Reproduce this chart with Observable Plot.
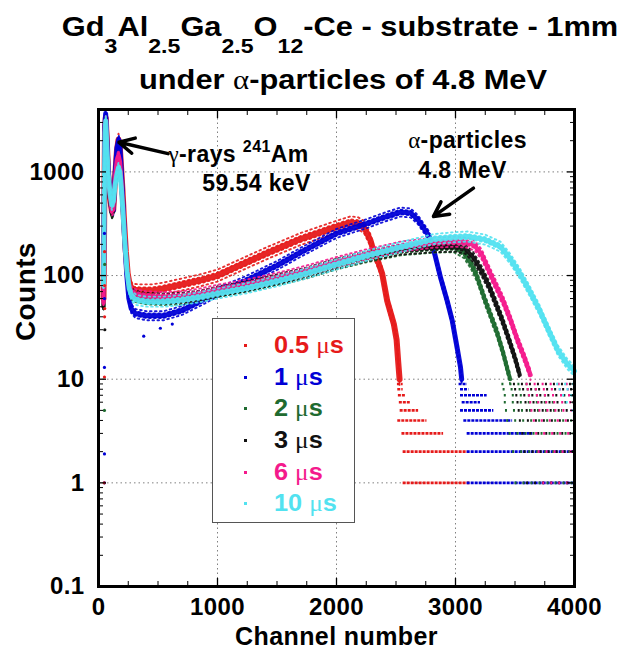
<!DOCTYPE html>
<html><head><meta charset="utf-8">
<script src="https://cdn.jsdelivr.net/npm/d3@7"></script>
<script src="https://cdn.jsdelivr.net/npm/@observablehq/plot@0.6"></script>
<style>
body{margin:0;background:#fff;}
#wrap{position:relative;width:620px;height:651px;font-family:"Liberation Sans",Arial,sans-serif;font-weight:bold;overflow:hidden;background:#fff;}
.tl{position:absolute;white-space:nowrap;font-size:28px;line-height:28px;transform:translateX(-50%) scaleX(1.1);color:#000;}
.sub{font-size:21px;position:relative;top:17px;}
.sym{font-family:"Liberation Serif",serif;font-weight:normal;}
#legend{position:absolute;left:212px;top:318px;width:141px;height:203px;border:1.5px solid #555;background:#fff;}
.lrow{position:absolute;left:274px;font-size:23px;line-height:28px;white-space:nowrap;transform:scaleX(1.1);transform-origin:left center;}
.ldot{position:absolute;left:244px;width:3px;height:3px;}
</style></head>
<body><div id="wrap"></div>
<script>
// ---------------- data ----------------
const seriesNames = ["0.5", "1", "2", "3", "6", "10"];
const seriesColors = ["#e61a1a", "#0000d6", "#1f6b30", "#111111", "#f41a8c", "#52e2f0"];

// [channel, counts] for each shaping time
const s05 = [[42,60],[48,400],[55,2600],[61,3300],[68,2200],[80,1000],[95,600],[112,420],[124,430],[140,900],[155,1600],[168,2050],[178,1800],[190,1100],[202,650],[215,330],[230,170],[245,105],[262,82],[285,73],[350,72],[450,72],[550,75],[700,82],[857,90],[1000,100],[1137,118],[1418,165],[1697,225],[1850,258],[1977,290],[2118,326],[2180,320],[2230,295],[2258,254],[2286,218],[2314,168],[2350,135],[2384,104],[2426,57],[2482,34],[2505,24],[2518,15],[2530,10]];
const s1 = [[42,80],[48,500],[54,2800],[60,3650],[67,2600],[80,1100],[95,620],[112,410],[124,420],[140,950],[155,1700],[170,2050],[180,1750],[192,1000],[205,500],[220,220],[238,100],[255,60],[275,48],[310,43],[400,41],[550,41],[700,46],[850,56],[1000,69],[1235,89],[1500,125],[1700,168],[2000,255],[2258,318],[2400,365],[2538,410],[2622,402],[2680,350],[2706,318],[2776,243],[2818,175],[2874,96],[2930,57],[2972,37],[3014,20],[3042,13],[3052,10]];
const s2 = [[42,50],[48,300],[55,2200],[61,3000],[68,1900],[80,900],[95,560],[112,390],[122,420],[140,800],[155,1100],[168,1250],[180,1100],[192,750],[205,420],[220,210],[238,110],[255,78],[275,66],[310,62],[400,59],[550,58],[700,59],[850,63],[1000,69],[1250,78],[1500,90],[1750,105],[2000,128],[2250,150],[2538,175],[2818,186],[2985,188],[3070,165],[3130,130],[3180,98],[3250,57],[3300,40],[3350,28],[3400,18],[3440,12],[3460,10]];
const s3 = [[42,50],[48,300],[55,2200],[61,2900],[68,1900],[80,900],[95,560],[112,400],[122,420],[140,780],[155,1080],[168,1200],[180,1080],[192,740],[205,420],[220,210],[238,110],[255,80],[275,68],[310,64],[400,61],[550,60],[700,61],[850,64],[1000,70],[1250,79],[1500,92],[1750,107],[2000,130],[2250,153],[2538,178],[2818,188],[3000,190],[3080,182],[3150,150],[3220,110],[3280,80],[3330,57],[3390,38],[3450,24],[3500,16],[3540,11]];
const s6 = [[42,55],[48,350],[55,2400],[61,3100],[68,2000],[80,950],[95,600],[112,420],[124,440],[140,900],[155,1300],[168,1450],[180,1250],[192,820],[205,440],[220,215],[238,112],[255,82],[275,70],[310,66],[400,63],[550,62],[700,63],[850,67],[1000,73],[1250,82],[1500,95],[1750,112],[2000,135],[2250,160],[2538,190],[2818,208],[3000,212],[3100,207],[3160,195],[3220,160],[3300,100],[3400,57],[3460,38],[3520,24],[3580,16],[3630,11]];
const s10 = [[42,80],[48,500],[55,2400],[61,3100],[68,2000],[80,1000],[95,650],[112,480],[125,520],[140,750],[155,950],[168,1100],[180,1000],[192,700],[205,420],[222,200],[240,110],[258,75],[280,63],[320,58],[400,56],[550,56],[700,58],[857,62],[1000,67],[1235,75],[1500,88],[1750,105],[2000,128],[2250,155],[2538,188],[2818,225],[2985,234],[3100,238],[3250,222],[3378,190],[3460,145],[3540,105],[3620,72],[3700,48],[3780,30],[3860,19],[3940,14],[4000,12]];

// quantised low-count rows: [counts level, first channel, last channel]
const rows05 = [[9,2512,2560],[8,2515,2560],[7,2520,2580],[6,2528,2620],[5,2535,2690],[4,2515,2760],[3,2550,2900],[2,2560,3100],[1,2560,3120]];
const rows1 = [[9,3030,3100],[8,3042,3112],[7,3042,3266],[6,3056,3210],[5,3042,3322],[4,3070,3480],[3,3098,3650],[2,3098,4000],[1,3098,4000]];
const rows2 = [[9,3390,3640],[8,3400,3700],[7,3410,3780],[6,3410,3850],[5,3420,3900],[4,3430,4000],[3,3450,4000],[2,3480,4000],[1,3500,4000]];
const rows3 = [[9,3470,4000],[8,3480,4000],[7,3490,4000],[6,3500,4000],[5,3510,4000],[4,3520,4000],[3,3540,4000],[2,3560,4000],[1,3580,4000]];
const rows6 = [[9,3560,4000],[8,3570,4000],[7,3580,4000],[6,3590,4000],[5,3600,4000],[4,3620,4000],[3,3640,4000],[2,3660,4000],[1,3700,4000]];
const rows10 = [[9,3800,4000],[8,3820,4000],[7,3850,4000],[6,3880,4000],[5,3930,4000]];

// isolated counts near the start: [channel, counts, series index]
const strayPoints = [[50,13,1],[50,10.5,0],[50,5,2],[50,1.9,1],[50,1,1],[48,1,0],[51,170,0],[50,255,1],[52,128,2],[51,80,0],[50,60,1],[52,48,0],[51,40,0],[53,30,3],[380,26,1],[520,31,1],[620,34,1]];

const xMajor = [0, 1000, 2000, 3000, 4000];
const yMajor = [0.1, 1, 10, 100, 1000];
const xMinor = [250,500,750,1250,1500,1750,2250,2500,2750,3250,3500,3750];
const yMinor = [0.2,0.3,0.4,0.5,0.6,0.7,0.8,0.9,2,3,4,5,6,7,8,9,20,30,40,50,60,70,80,90,200,300,400,500,600,700,800,900,2000,3000];

const textNotes = [
  {label: "γ-rays 241Am", ch: 588, counts: 1236, anchor: "start"},
  {label: "59.54 keV", ch: 1328, counts: 648, anchor: "middle"},
  {label: "α-particles", ch: 3101, counts: 1687, anchor: "middle"},
  {label: "4.8 MeV", ch: 3059, counts: 865, anchor: "middle"}
];
const arrowNotes = [
  {ch1: 585, c1: 1500, ch2: 172, c2: 1930},
  {ch1: 3151, c1: 697, ch2: 2815, c2: 372}
];

// ---------------- chart ----------------
const curves = [s05, s1, s2, s3, s6, s10];
const rowsets = [rows05, rows1, rows2, rows3, rows6, rows10];
const coreWidth = [6, 5, 4, 4, 4.5, 5];
const spread = [6, 4.5, 5, 5, 5, 5];

const marks = [
  Plot.gridX([1000, 2000, 3000], {stroke: "#808080", strokeOpacity: 1, strokeWidth: 1, strokeDasharray: "1.5,3"}),
  Plot.gridY([1, 10, 100, 1000], {stroke: "#808080", strokeOpacity: 1, strokeWidth: 1, strokeDasharray: "1.5,3"})
];
curves.forEach((c, i) => {
  const col = seriesColors[i];
  const dense = i < 2;
  marks.push(Plot.ruleY(rowsets[i], {y: d => d[0], x1: d => d[1], x2: d => d[2], stroke: col, strokeWidth: 2.6,
    strokeDasharray: dense ? "3,1" : "2,6", strokeDashoffset: dense ? 0 : -2 * (i - 2)}));
  // speckled fringe of the dot cloud
  const k = spread[i];
  [[-k, 0], [-k / 2, 1.7], [k / 2, 0.9], [k, 2.5]].forEach(([off, ph]) => {
    marks.push(Plot.line(c, {x: d => d[0], y: d => d[1], dy: off, stroke: col, strokeWidth: 1.9,
      strokeDasharray: "1.6,3.4", strokeDashoffset: ph, strokeOpacity: 0.9}));
  });
  marks.push(Plot.line(c, {x: d => d[0], y: d => d[1], stroke: col, strokeWidth: coreWidth[i], strokeOpacity: 0.95}));
});
marks.push(Plot.dot(strayPoints, {x: d => d[0], y: d => d[1], r: 1.6, fill: d => seriesColors[d[2]], stroke: null}));

// annotations
marks.push(Plot.arrow(arrowNotes, {x1: "ch1", y1: "c1", x2: "ch2", y2: "c2", stroke: "#000", strokeWidth: 3.5, headLength: 17, headAngle: 55}));
marks.push(Plot.text(textNotes.filter(d => d.anchor === "start"), {x: "ch", y: "counts", text: "label", textAnchor: "start", lineAnchor: "bottom", fontSize: 23, fill: "#000"}));
marks.push(Plot.text(textNotes.filter(d => d.anchor === "middle"), {x: "ch", y: "counts", text: "label", textAnchor: "middle", lineAnchor: "bottom", fontSize: 23, fill: "#000"}));

// axes: labels + inward ticks on all four sides
const fmtX = d3.format("d");
const fmtY = d3.format("~g");
marks.push(
  Plot.axisX({anchor: "bottom", ticks: xMajor, tickSize: 0, tickPadding: 11, tickFormat: fmtX, fontSize: 24, label: null}),
  Plot.axisY({anchor: "left", ticks: yMajor, tickSize: 0, tickPadding: 14, tickFormat: fmtY, fontSize: 24, label: null})
);
for (const a of ["bottom", "top"]) {
  marks.push(Plot.axisX({anchor: a, ticks: xMajor, tickSize: -8, tickFormat: () => "", label: null, strokeWidth: 1.3}));
  marks.push(Plot.axisX({anchor: a, ticks: xMinor, tickSize: -5, tickFormat: () => "", label: null, strokeWidth: 1}));
}
for (const a of ["left", "right"]) {
  marks.push(Plot.axisY({anchor: a, ticks: yMajor, tickSize: -8, tickFormat: () => "", label: null, strokeWidth: 1.3}));
  marks.push(Plot.axisY({anchor: a, ticks: yMinor, tickSize: -5, tickFormat: () => "", label: null, strokeWidth: 1}));
}
marks.push(Plot.text(["Channel number"], {frameAnchor: "bottom", dy: 50, lineAnchor: "middle", fontSize: 25, fill: "#000"}));
marks.push(Plot.text(["Counts"], {frameAnchor: "left", dx: -72, dy: -7, rotate: -90, lineAnchor: "middle", fontSize: 28, fill: "#000"}));
marks.push(Plot.frame({stroke: "#000", strokeWidth: 3}));

const svg = Plot.plot({
  width: 620, height: 546,
  marginTop: 4, marginBottom: 65, marginLeft: 98, marginRight: 46,
  x: {domain: [0, 4000]},
  y: {type: "log", domain: [0.1, 4000]},
  style: {fontFamily: "'Liberation Sans', Arial, sans-serif", fontWeight: "bold", background: "transparent", overflow: "visible", letterSpacing: "0.04em", color: "#000"},
  marks
});

// Greek letters in a serif face, isotope number as superscript
const NS = "http://www.w3.org/2000/svg";
d3.select(svg).selectAll("text").each(function() {
  const s = this.textContent;
  if (!/[αγ]|241/.test(s)) return;
  while (this.firstChild) this.removeChild(this.firstChild);
  let raised = false;
  for (const p of s.split(/(α|γ|241)/).filter(p => p)) {
    const ts = document.createElementNS(NS, "tspan");
    ts.textContent = p;
    if (p === "α" || p === "γ") { ts.setAttribute("font-family", "'Liberation Serif', serif"); ts.setAttribute("font-weight", "normal"); }
    if (p === "241") { ts.setAttribute("font-size", "16"); ts.setAttribute("dy", "-10"); raised = true; }
    else if (raised) { ts.setAttribute("dy", "10"); raised = false; }
    this.appendChild(ts);
  }
});

const wrap = document.getElementById("wrap");
svg.style.position = "absolute";
svg.style.left = "0px";
svg.style.top = "105px";
wrap.appendChild(svg);

// title
const t1 = document.createElement("div");
t1.className = "tl"; t1.style.left = "340px"; t1.style.top = "13px";
t1.innerHTML = 'Gd<span class="sub">3</span>Al<span class="sub">2.5</span>Ga<span class="sub">2.5</span>O<span class="sub">12</span>-Ce - substrate - 1mm';
wrap.appendChild(t1);
const t2 = document.createElement("div");
t2.className = "tl"; t2.style.left = "343px"; t2.style.top = "66px";
t2.innerHTML = 'under <span class="sym">α</span>-particles of 4.8 MeV';
wrap.appendChild(t2);

// legend
const lg = document.createElement("div");
lg.id = "legend";
wrap.appendChild(lg);
const rowCenters = [345, 377, 408, 440, 472, 503];
seriesNames.forEach((n, i) => {
  const dot = document.createElement("div");
  dot.className = "ldot";
  dot.style.top = (rowCenters[i] - 1) + "px";
  dot.style.background = seriesColors[i];
  wrap.appendChild(dot);
  const r = document.createElement("div");
  r.className = "lrow";
  r.style.top = (rowCenters[i] - 14) + "px";
  r.style.color = seriesColors[i];
  r.innerHTML = n + ' <span class="sym">μ</span>s';
  wrap.appendChild(r);
});
</script>
</body></html>
